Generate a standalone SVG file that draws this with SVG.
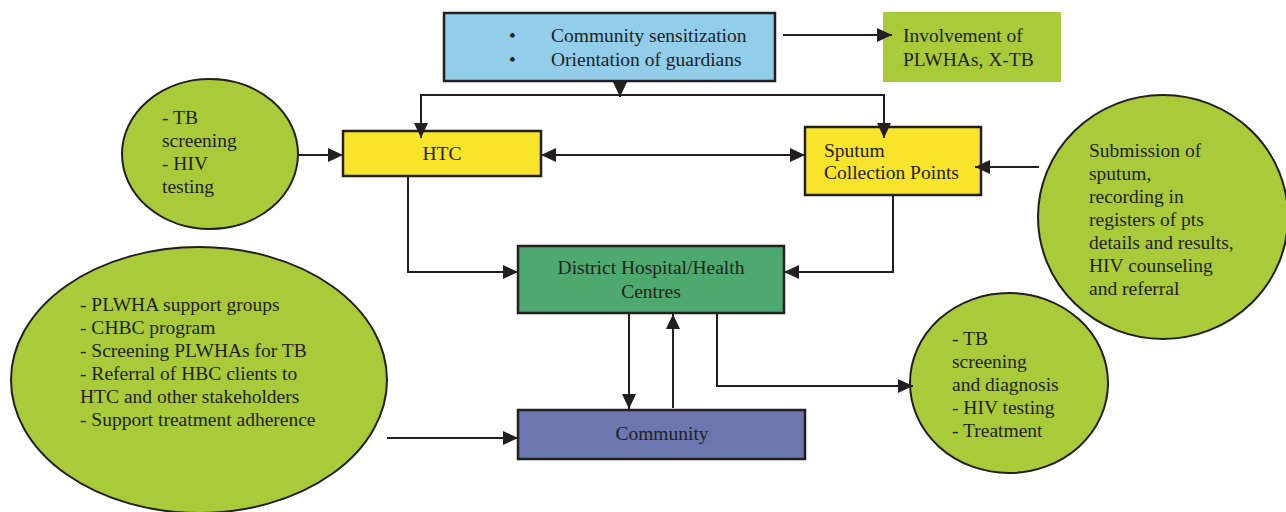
<svg xmlns="http://www.w3.org/2000/svg" width="1286" height="512" viewBox="0 0 1286 512">
<defs>
<style>
.t{font-family:"Liberation Serif","Times New Roman",serif;font-size:19.5px;fill:#231F20}
.c{text-anchor:middle}
.box{stroke:#231F20;stroke-width:2.5}
.oval{fill:#A9CB3A;stroke:#231F20;stroke-width:2}
.ln{fill:none;stroke:#231F20;stroke-width:2}
</style>
<marker id="ah" markerUnits="userSpaceOnUse" markerWidth="16" markerHeight="14" refX="15" refY="7" orient="auto">
<path d="M0,0 L15,7 L0,14 z" fill="#231F20"/>
</marker>
<marker id="as" markerUnits="userSpaceOnUse" markerWidth="16" markerHeight="14" refX="0" refY="7" orient="auto">
<path d="M15,0 L0,7 L15,14 z" fill="#231F20"/>
</marker>
</defs>
<rect width="1286" height="512" fill="#FFFFFF"/>

<g id="left-big-ellipse">
<ellipse class="oval" cx="199" cy="380" rx="188" ry="133"/>
<text class="t" x="80" y="311">- PLWHA support groups</text>
<text class="t" x="80" y="334">- CHBC program</text>
<text class="t" x="80" y="357">- Screening PLWHAs for TB</text>
<text class="t" x="80" y="380">- Referral of HBC clients to</text>
<text class="t" x="80" y="403">HTC and other stakeholders</text>
<text class="t" x="80" y="426">- Support treatment adherence</text>
</g>

<g id="left-circle">
<ellipse class="oval" cx="210" cy="154" rx="88" ry="75"/>
<text class="t" x="162" y="124">- TB</text>
<text class="t" x="162" y="147">screening</text>
<text class="t" x="162" y="170">- HIV</text>
<text class="t" x="162" y="193">testing</text>
</g>

<g id="right-big-circle">
<ellipse class="oval" cx="1163" cy="217" rx="125" ry="122"/>
<text class="t" x="1089" y="157">Submission of</text>
<text class="t" x="1089" y="180">sputum,</text>
<text class="t" x="1089" y="203">recording in</text>
<text class="t" x="1089" y="226">registers of pts</text>
<text class="t" x="1089" y="249">details and results,</text>
<text class="t" x="1089" y="272">HIV counseling</text>
<text class="t" x="1089" y="295">and referral</text>
</g>

<g id="right-small-circle">
<ellipse class="oval" cx="1009" cy="383" rx="99" ry="90"/>
<text class="t" x="952" y="345">- TB</text>
<text class="t" x="952" y="368">screening</text>
<text class="t" x="952" y="391">and diagnosis</text>
<text class="t" x="952" y="414">- HIV testing</text>
<text class="t" x="952" y="437">- Treatment</text>
</g>

<g id="sensitization">
<rect class="box" x="444" y="13" width="331" height="68" fill="#92CDEA"/>
<text class="t" x="509" y="42">•</text>
<text class="t" x="509" y="66">•</text>
<text class="t" x="551" y="42">Community sensitization</text>
<text class="t" x="551" y="66">Orientation of guardians</text>
</g>

<g id="involvement">
<rect x="883" y="12" width="178" height="70" fill="#A9CB3A"/>
<text class="t" x="903" y="42">Involvement of</text>
<text class="t" x="903" y="66">PLWHAs, X-TB</text>
</g>

<g id="htc">
<rect class="box" x="343" y="131" width="198" height="45" fill="#F8E42A"/>
<text class="t c" x="442" y="160">HTC</text>
</g>

<g id="sputum">
<rect class="box" x="805" y="127" width="176" height="68" fill="#F8E42A"/>
<text class="t" x="824" y="157">Sputum</text>
<text class="t" x="824" y="179">Collection Points</text>
</g>

<g id="district">
<rect class="box" x="518" y="246" width="266" height="67" fill="#4EA96E"/>
<text class="t c" x="651" y="274">District Hospital/Health</text>
<text class="t c" x="651" y="298">Centres</text>
</g>

<g id="community">
<rect class="box" x="518" y="410" width="287" height="49" fill="#6B77AE"/>
<text class="t c" x="662" y="440">Community</text>
</g>

<g id="connectors">
<path class="ln" d="M783,35 H892" marker-end="url(#ah)"/>
<path class="ln" d="M620,81 V97" marker-end="url(#ah)"/>
<path class="ln" d="M621,95 H421 V138" marker-end="url(#ah)"/>
<path class="ln" d="M619,95 H884 V138" marker-end="url(#ah)"/>
<path class="ln" d="M298,155 H343" marker-end="url(#ah)"/>
<path class="ln" d="M541,155 H805" marker-start="url(#as)" marker-end="url(#ah)"/>
<path class="ln" d="M1039,167 H975" marker-end="url(#ah)"/>
<path class="ln" d="M408,176 V272 H518" marker-end="url(#ah)"/>
<path class="ln" d="M893,196 V272 H784" marker-end="url(#ah)"/>
<path class="ln" d="M629,314 V409" marker-end="url(#ah)"/>
<path class="ln" d="M673,408 V314" marker-end="url(#ah)"/>
<path class="ln" d="M717,314 V386 H913" marker-end="url(#ah)"/>
<path class="ln" d="M387,438 H518" marker-end="url(#ah)"/>
</g>
</svg>
